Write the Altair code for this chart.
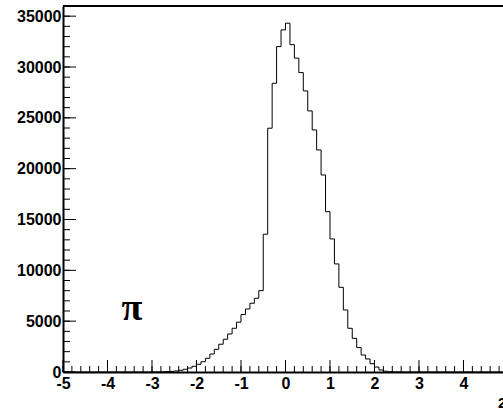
import altair as alt
import pandas as pd

# ---- data ----
x_start = -5.0
bin_width = 0.1
counts = (
    [0] * 20
    + [5, 10, 20, 40, 60, 100, 170, 270, 390, 560,
       760, 1010, 1350, 1770, 2230, 2730, 3220, 3740, 4300, 4900,
       5650, 6200, 6760, 7250, 8000, 13550, 23980, 28400, 32010, 33650,
       34310, 32200, 30870, 29450, 27650, 25680, 23810, 21840, 19380, 15770,
       13090, 10630, 8330, 6100, 4300, 3310, 2400, 1670, 1280, 820,
       490, 200, 80, 30, 10]
    + [0] * 25
)
x_major = [-5, -4, -3, -2, -1, 0, 1, 2, 3, 4]
x_minor = [round(-5 + 0.2 * i, 1) for i in range(50)]
y_major = [0, 5000, 10000, 15000, 20000, 25000, 30000, 35000]
y_minor = list(range(0, 37000, 1000))
label_x = [-3.45]
label_y = [5100]
label_text = ["π"]

edges = [round(x_start + bin_width * i, 2) for i in range(len(counts) + 1)]
hist = pd.DataFrame({"x": edges, "y": counts + [counts[-1]]})

W, H = 440, 366
xs = alt.Scale(domain=[-5, 4.888], nice=False, zero=False)
ys = alt.Scale(domain=[0, 36000], nice=False, zero=False)
FONT = "Liberation Sans"

xaxis = alt.Axis(values=x_major, labelExpr="toString(datum.value)", tickSize=0, domainWidth=2,
                 domainColor="black", grid=False, title=None,
                 labelFont=FONT, labelFontWeight=700, labelFontSize=16,
                 labelColor="black", labelPadding=3, labelFlush=False,
                 labelOverlap=False)
yaxis = alt.Axis(values=y_major, labelExpr="toString(datum.value)", tickSize=0, domainWidth=2,
                 domainColor="black", grid=False, title=None,
                 labelFont=FONT, labelFontWeight=700, labelFontSize=16,
                 labelColor="black", labelPadding=2, labelFlush=False,
                 labelOverlap=False)

def X():
    return alt.X("x:Q", scale=xs, axis=xaxis)

def Y():
    return alt.Y("y:Q", scale=ys, axis=yaxis)

line = alt.Chart(hist).mark_line(
    interpolate="step-after", color="black", strokeWidth=1, clip=True
).encode(x=X(), y=Y())

xminor = alt.Chart(pd.DataFrame({"x": x_minor})).mark_rule(
    color="black", strokeWidth=1).encode(x=X(), y=alt.value(H), y2=alt.value(H - 6))
xmajor = alt.Chart(pd.DataFrame({"x": x_major})).mark_rule(
    color="black", strokeWidth=1).encode(x=X(), y=alt.value(H), y2=alt.value(H - 12))
yminor = alt.Chart(pd.DataFrame({"y": y_minor})).mark_rule(
    color="black", strokeWidth=1).encode(y=Y(), x=alt.value(0), x2=alt.value(7))
ymajor = alt.Chart(pd.DataFrame({"y": y_major})).mark_rule(
    color="black", strokeWidth=1).encode(y=Y(), x=alt.value(0), x2=alt.value(13))

topframe = alt.Chart(pd.DataFrame({"y": [36000]})).mark_rule(
    color="black", strokeWidth=2).encode(y=Y())

pi_text = alt.Chart(pd.DataFrame({"x": label_x, "y": label_y, "t": label_text})).mark_text(
    font="Liberation Serif", fontWeight="bold", fontSize=38, color="black",
    align="center", baseline="alphabetic").encode(x=X(), y=Y(), text="t:N")

corner = alt.Chart(pd.DataFrame({"t": ["2"]})).mark_text(
    font=FONT, fontWeight="bold", fontSize=14, color="black",
    align="left", baseline="alphabetic").encode(
    x=alt.value(W - 5), y=alt.value(H + 36), text="t:N")

chart = alt.layer(line, xminor, xmajor, yminor, ymajor, topframe, pi_text, corner).properties(
    width=W, height=H,
    autosize=alt.AutoSizeParams(type="none"),
    padding={"left": 63, "top": 6, "right": 0, "bottom": 38},
).configure_view(strokeWidth=0).configure(background="white")

chart.save("out.html", embed_options={"renderer": "svg", "actions": False})
